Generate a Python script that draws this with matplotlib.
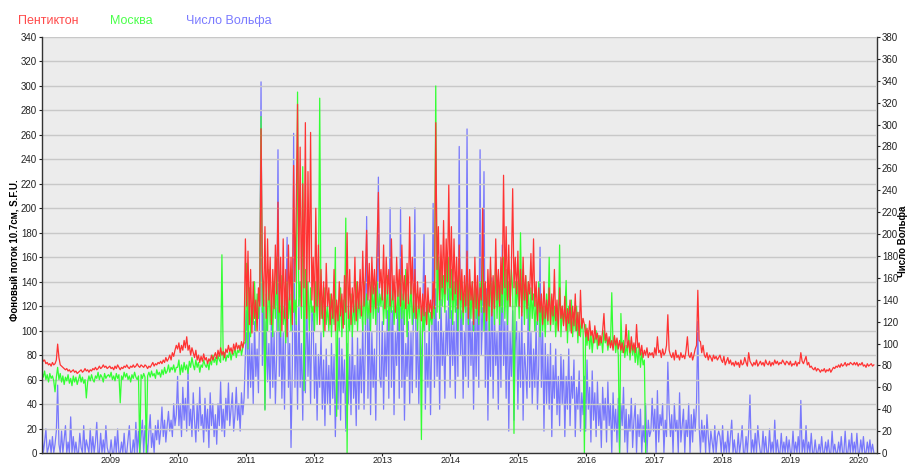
import numpy as np
import pandas as pd
import matplotlib
matplotlib.use("Agg")
import matplotlib.pyplot as plt
import matplotlib.dates as mdates

plt.rcParams['font.family'] = ['Liberation Sans', 'DejaVu Sans']

# weekly samples starting 2008-01-01, four rows of 13 per year
penticton = [
    # 2008
    78, 75, 76, 73, 74, 72, 73, 71, 74, 72, 73, 76, 89,
    78, 72, 71, 70, 69, 68, 69, 67, 68, 66, 67, 68, 66,
    67, 65, 66, 67, 68, 66, 67, 69, 67, 68, 66, 68, 67,
    69, 68, 70, 68, 69, 71, 69, 70, 72, 70, 71, 69, 70,
    # 2009
    71, 69, 70, 68, 71, 69, 72, 70, 68, 70, 69, 71, 70,
    72, 70, 69, 71, 70, 72, 70, 71, 73, 71, 70, 72, 71,
    70, 72, 71, 69, 71, 70, 72, 74, 71, 73, 72, 74, 73,
    75, 73, 76, 74, 78, 75, 77, 80, 76, 82, 79, 84, 88,
    # 2010
    85, 90, 82, 88, 84, 92, 86, 95, 84, 88, 80, 86, 82,
    78, 84, 76, 80, 74, 79, 75, 81, 76, 78, 73, 77, 75,
    80, 76, 79, 82, 77, 84, 79, 86, 80, 83, 78, 85, 82,
    88, 83, 86, 81, 89, 84, 90, 85, 88, 84, 91, 86, 92,
    # 2011
    175, 120, 165, 105, 150, 98, 140, 110, 125, 100, 135, 120, 265,
    150, 120, 185, 110, 175, 125, 160, 105, 150, 118, 170, 130, 205,
    115, 160, 100, 175, 110, 150, 95, 170, 125, 160, 105, 235, 140,
    200, 285, 150, 250, 120, 220, 135, 270, 110, 230, 140, 262, 125,
    # 2012
    160, 115, 200, 120, 170, 105, 150, 110, 140, 100, 155, 120, 135,
    105, 130, 110, 150, 100, 125, 108, 140, 112, 130, 102, 145, 115,
    180, 110, 150, 105, 135, 115, 160, 108, 140, 118, 150, 112, 165,
    120, 145, 182, 125, 155, 115, 160, 130, 150, 118, 170, 213, 135,
    # 2013
    150, 125, 170, 118, 160, 130, 150, 120, 175, 125, 145, 115, 160,
    128, 150, 120, 170, 125, 145, 118, 155, 122, 193, 130, 160, 115,
    150, 110, 140, 118, 135, 108, 130, 112, 145, 105, 135, 115, 125,
    110, 140, 118, 270, 150, 185, 125, 170, 135, 190, 130, 175, 140,
    # 2014
    219, 135, 185, 125, 175, 130, 160, 118, 170, 125, 150, 115, 145,
    120, 165, 110, 150, 125, 140, 105, 160, 118, 145, 112, 135, 125,
    200, 115, 140, 108, 150, 120, 160, 112, 145, 118, 175, 125, 150,
    120, 160, 130, 227, 135, 185, 125, 170, 120, 150, 216, 135, 160,
    # 2015
    130, 165, 120, 150, 112, 160, 125, 145, 118, 140, 130, 163, 125,
    175, 120, 140, 108, 135, 115, 130, 105, 140, 110, 125, 108, 135,
    105, 130, 112, 150, 108, 125, 100, 135, 110, 120, 104, 128, 100,
    118, 106, 125, 98, 120, 104, 130, 100, 115, 96, 133, 102, 110,
    # 2016
    105, 95, 102, 92, 108, 96, 100, 90, 104, 93, 98, 88, 96,
    90, 100, 114, 92, 98, 88, 95, 86, 92, 84, 96, 88, 94,
    85, 92, 84, 90, 82, 88, 105, 86, 92, 82, 95, 84, 90,
    82, 105, 86, 90, 80, 88, 78, 84, 80, 86, 78, 82, 80,
    # 2017
    82, 78, 86, 80, 95, 82, 84, 78, 85, 80, 82, 88, 113,
    84, 80, 78, 82, 76, 84, 78, 80, 76, 82, 78, 80, 77,
    84, 95, 80, 78, 82, 76, 80, 85, 88, 133, 92, 91, 82,
    88, 80, 78, 82, 76, 80, 78, 75, 80, 77, 79, 76, 78,
    # 2018
    80, 76, 74, 79, 72, 75, 78, 73, 76, 72, 74, 71, 75,
    72, 74, 70, 76, 72, 73, 78, 74, 71, 82, 75, 73, 71,
    74, 72, 76, 71, 73, 75, 72, 74, 71, 76, 73, 72, 75,
    71, 74, 72, 76, 73, 75, 72, 74, 73, 76, 74, 72, 75,
    # 2019
    74, 72, 75, 71, 73, 72, 75, 71, 74, 73, 82, 75, 73,
    76, 79, 72, 74, 70, 71, 69, 68, 70, 67, 69, 68, 66,
    68, 67, 69, 66, 68, 67, 69, 66, 68, 70, 69, 71, 70,
    72, 70, 73, 71, 72, 74, 71, 73, 72, 74, 73, 72, 74,
    # 2020
    72, 74, 71, 73, 72, 74, 71, 72, 70, 73, 71, 72, 73, 71, 72,
]

moscow = [
    # 2008
    66, 62, 67, 60, 64, 58, 65, 61, 63, 59, 50, 62, 70,
    60, 65, 58, 63, 56, 62, 59, 64, 57, 61, 55, 63, 58,
    62, 56, 60, 64, 58, 62, 57, 60, 45, 58, 63, 59, 64,
    60, 58, 63, 61, 66, 60, 64, 62, 58, 65, 61, 63, 64,
    # 2009
    62, 66, 60, 63, 59, 65, 61, 64, 41, 63, 60, 66, 62,
    65, 60, 63, 58, 64, 61, 66, 62, 60, 63, 0, 64, 61,
    65, 62, 0, 63, 66, 62, 67, 63, 65, 61, 68, 64, 66,
    62, 68, 64, 70, 65, 67, 72, 66, 70, 68, 72, 66, 70,
    # 2010
    70, 76, 64, 72, 66, 74, 68, 72, 65, 75, 70, 78, 72,
    68, 76, 70, 74, 66, 72, 70, 76, 72, 70, 74, 68, 76,
    72, 80, 74, 78, 72, 80, 76, 74, 162, 76, 82, 75, 80,
    78, 84, 76, 82, 80, 86, 78, 84, 82, 88, 80, 86, 90,
    # 2011
    90, 155, 85, 135, 95, 120, 105, 140, 100, 130, 110, 125, 275,
    115, 140, 35, 130, 100, 150, 105, 125, 95, 140, 110, 160, 100,
    130, 95, 145, 105, 120, 90, 140, 110, 130, 100, 150, 115, 125,
    105, 295, 120, 140, 110, 234, 51, 150, 110, 140, 100, 135, 115,
    # 2012
    120, 100, 140, 105, 130, 290, 110, 125, 95, 135, 105, 120, 100,
    130, 95, 125, 105, 168, 30, 120, 100, 135, 95, 125, 105, 192,
    0, 120, 100, 130, 95, 125, 105, 140, 100, 130, 110, 125, 100,
    140, 105, 130, 110, 125, 100, 145, 110, 135, 105, 140, 115, 130,
    # 2013
    120, 140, 105, 135, 110, 145, 100, 130, 115, 140, 105, 125, 110,
    135, 100, 145, 110, 130, 105, 150, 95, 130, 110, 140, 105, 125,
    110, 130, 100, 125, 110, 11, 120, 100, 115, 105, 125, 100, 115,
    105, 120, 110, 300, 115, 160, 110, 150, 120, 145, 115, 160, 125,
    # 2014
    160, 110, 150, 105, 140, 115, 145, 100, 155, 110, 140, 105, 130,
    115, 150, 105, 135, 110, 140, 100, 145, 110, 130, 105, 140, 115,
    165, 100, 135, 110, 140, 100, 150, 115, 140, 105, 160, 110, 145,
    105, 140, 115, 160, 110, 150, 105, 140, 120, 150, 135, 16, 140,
    # 2015
    120, 140, 110, 180, 115, 150, 105, 145, 110, 140, 100, 135, 110,
    130, 100, 125, 105, 140, 95, 125, 100, 120, 95, 130, 105, 160,
    100, 125, 105, 120, 95, 115, 100, 170, 95, 120, 105, 115, 141,
    90, 120, 100, 125, 95, 115, 100, 120, 90, 115, 95, 110, 100,
    # 2016 (series ends in November)
    0, 105, 88, 100, 85, 98, 82, 95, 90, 100, 85, 96, 88,
    95, 82, 100, 90, 95, 84, 92, 88, 131, 86, 95, 82, 92,
    80, 0, 114, 82, 92, 78, 88, 80, 100, 76, 92, 80, 88,
    74, 86, 72, 88, 70, 82, 72, 76, 0,
]

wolf = [
    # 2008
    18, 0, 10, 22, 0, 5, 12, 0, 15, 0, 8, 20, 62,
    8, 0, 20, 0, 12, 25, 0, 10, 0, 33, 0, 15, 0,
    10, 0, 0, 18, 5, 0, 25, 0, 12, 6, 0, 22, 0,
    15, 0, 10, 28, 0, 0, 18, 0, 12, 0, 25, 5, 0,
    # 2009
    0, 12, 0, 0, 15, 0, 22, 0, 0, 10, 0, 18, 0,
    0, 12, 25, 0, 0, 12, 0, 28, 0, 20, 0, 15, 30,
    0, 25, 10, 0, 20, 35, 5, 18, 0, 25, 12, 30, 8,
    20, 42, 15, 30, 10, 25, 38, 20, 30, 15, 45, 25, 35,
    # 2010
    70, 25, 45, 15, 60, 30, 50, 20, 76, 25, 40, 15, 55,
    30, 10, 45, 20, 60, 25, 35, 10, 50, 20, 40, 5, 55,
    25, 45, 15, 35, 8, 45, 25, 65, 20, 40, 15, 50, 30,
    64, 25, 40, 55, 20, 35, 60, 30, 45, 20, 55, 35, 50,
    # 2011
    90, 130, 50, 110, 60, 100, 45, 120, 70, 95, 55, 140, 339,
    80, 140, 40, 120, 65, 100, 50, 130, 60, 110, 45, 90, 277,
    70, 120, 50, 110, 40, 130, 197, 60, 100, 5, 80, 292, 60,
    120, 40, 140, 60, 100, 30, 120, 55, 150, 70, 110, 45, 130,
    # 2012
    120, 50, 100, 30, 90, 60, 110, 40, 85, 25, 95, 45, 80,
    35, 100, 50, 90, 15, 80, 40, 105, 30, 95, 55, 85, 20,
    100, 45, 90, 35, 110, 50, 80, 25, 105, 40, 95, 55, 120,
    40, 100, 216, 50, 130, 35, 110, 60, 95, 30, 120, 252, 70,
    # 2013
    60, 120, 40, 110, 70, 130, 50, 224, 60, 130, 35, 110, 80,
    140, 50, 224, 60, 130, 30, 100, 70, 120, 45, 110, 55, 140,
    224, 60, 120, 45, 110, 70, 130, 200, 40, 100, 60, 120, 35,
    110, 228, 60, 150, 70, 120, 40, 140, 80, 110, 50, 130, 90,
    # 2014
    150, 60, 130, 80, 120, 50, 140, 70, 280, 90, 130, 50, 110,
    70, 296, 60, 140, 80, 120, 40, 130, 70, 150, 60, 277, 90,
    130, 257, 60, 150, 30, 120, 70, 160, 50, 130, 80, 110, 40,
    140, 60, 190, 80, 120, 50, 140, 20, 110, 70, 130, 30, 100,
    # 2015
    120, 40, 110, 60, 130, 30, 100, 75, 50, 140, 60, 110, 45,
    95, 60, 120, 40, 80, 188, 60, 110, 20, 100, 45, 90, 40,
    100, 15, 80, 50, 95, 35, 70, 25, 90, 45, 85, 15, 70,
    40, 95, 25, 70, 50, 85, 15, 60, 40, 75, 20, 55, 35,
    # 2016
    70, 20, 85, 40, 60, 10, 75, 30, 55, 15, 65, 25, 45,
    5, 60, 30, 50, 10, 65, 25, 45, 0, 55, 20, 40, 10,
    50, 0, 45, 25, 60, 10, 40, 0, 35, 20, 50, 5, 30,
    45, 0, 35, 15, 40, 0, 25, 10, 45, 0, 30, 15, 20,
    # 2017
    50, 20, 40, 0, 57, 10, 35, 25, 45, 0, 30, 15, 83,
    40, 15, 35, 0, 45, 20, 30, 0, 55, 10, 25, 40, 0,
    30, 15, 45, 0, 35, 10, 40, 20, 45, 120, 25, 0, 30,
    10, 25, 0, 35, 15, 0, 20, 10, 0, 25, 0, 15, 20,
    # 2018
    15, 0, 25, 0, 10, 0, 20, 0, 15, 30, 0, 12, 0,
    0, 18, 0, 10, 25, 0, 0, 15, 0, 20, 53, 0, 12,
    0, 18, 0, 25, 10, 0, 0, 20, 0, 15, 0, 0, 22,
    0, 10, 0, 30, 0, 12, 0, 0, 18, 0, 10, 0, 15,
    # 2019
    0, 12, 0, 0, 20, 0, 10, 0, 15, 0, 48, 0, 12,
    0, 25, 0, 10, 0, 18, 0, 0, 12, 0, 0, 8, 0,
    15, 0, 0, 10, 0, 12, 0, 0, 20, 0, 8, 0, 0,
    10, 0, 15, 0, 0, 20, 0, 0, 12, 0, 18, 0, 10,
    # 2020
    0, 18, 0, 0, 12, 0, 15, 0, 0, 10, 0, 12, 0, 8, 0,
]

dates = pd.date_range('2008-01-01', periods=len(penticton), freq='7D')
moscow_full = np.full(len(penticton), np.nan)
moscow_full[:len(moscow)] = moscow

fig = plt.figure(figsize=(9.09, 4.66), dpi=100)
ax2 = fig.add_axes([0.0462, 0.0279, 0.9186, 0.8927])
ax = ax2.twinx()
ax.yaxis.tick_left()
ax.yaxis.set_label_position('left')
ax2.yaxis.tick_right()
ax.set_zorder(ax2.get_zorder() + 1)
ax.patch.set_visible(False)
ax2.set_facecolor('#ececec')

ax2.plot(dates, wolf[:len(dates)], color='#6464ff', lw=0.9, alpha=0.85)
ax.plot(dates, moscow_full, color='#33ff33', lw=0.9)
ax.plot(dates, penticton, color='#ff3333', lw=0.9)

ax.set_ylim(0, 340)
ax.set_yticks(np.arange(0, 341, 20))
ax2.set_ylim(0, 380)
ax2.set_yticks(np.arange(0, 381, 20))
ax2.set_xlim(pd.Timestamp('2008-01-01'), pd.Timestamp('2020-04-10'))
ax2.set_xticks(pd.date_range('2009-01-01', '2020-01-01', freq='YS'))
ax2.xaxis.set_major_formatter(mdates.DateFormatter('%Y'))
ax.yaxis.grid(True, color='#c8c8c8', lw=1)
ax.set_axisbelow(True)

for a in (ax, ax2):
    a.tick_params(labelsize=7, length=2.5, width=0.8, colors='#222222', pad=1)
    for s in a.spines.values():
        s.set_visible(False)
ax2.tick_params(axis='x', labelsize=6.5, length=2, pad=0.5)
ax.spines['left'].set_visible(True)
ax.spines['bottom'].set_visible(True)
ax2.spines['right'].set_visible(True)
for s in (ax.spines['left'], ax.spines['bottom'], ax2.spines['right']):
    s.set_color('#333333')
    s.set_linewidth(1)

fig.text(15 / 909, 1 - 250 / 466, 'Фоновый поток 10.7см, S.F.U.', rotation=90,
         fontsize=7, fontweight='bold', ha='center', va='center')
fig.text(903 / 909, 1 - 241 / 466, 'Число Вольфа', rotation=90,
         fontsize=7, fontweight='bold', ha='center', va='center')

fig.text(18 / 909, 1 - 21 / 466, 'Пентиктон', color='#ff4a4a', fontsize=9, va='center')
fig.text(110 / 909, 1 - 21 / 466, 'Москва', color='#4aff4a', fontsize=9, va='center')
fig.text(186 / 909, 1 - 21 / 466, 'Число Вольфа', color='#7a7aff', fontsize=9, va='center')

fig.savefig('out.png', dpi=100)
